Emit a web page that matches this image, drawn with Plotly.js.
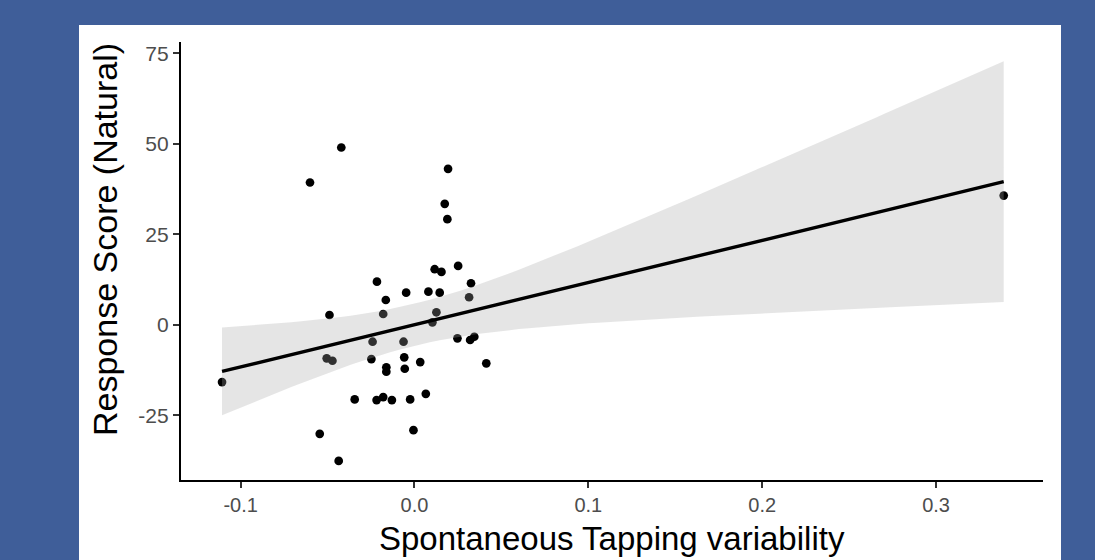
<!DOCTYPE html>
<html>
<head>
<meta charset="utf-8">
<script src="https://cdn.plot.ly/plotly-3.0.1.min.js"></script>
<style>
  html, body { margin: 0; padding: 0; background: #3F5E99; }
  #chart { width: 1095px; height: 560px; }
</style>
</head>
<body>
<div id="chart"></div>
<script>
// Spontaneous tapping variability vs. natural response score
const tappingVariability = [
  -0.1107, -0.0601, -0.0421, -0.0545, -0.0436, -0.0489, -0.0505, -0.0472,
  -0.0344, -0.0218, -0.0180, -0.0130, -0.0025, 0.0065, -0.0006, -0.0248,
  -0.0241, -0.0180, -0.0165, -0.0216, -0.0048, 0.0080, 0.0145, 0.0325,
  0.0314, 0.0126, 0.0103, -0.0063, -0.0059, -0.0056, -0.0162, -0.0162,
  0.0033, 0.0247, 0.0320, 0.0344, 0.0413, 0.0193, 0.0174, 0.0189,
  0.0116, 0.0155, 0.0251, 0.3389
];
const responseScore = [
  -15.85, 39.28, 48.96, -30.15, -37.62, 2.68, -9.29, -9.96,
  -20.64, -20.83, -20.00, -20.83, -20.64, -19.09, -29.13, -9.49,
  -4.70, 2.96, 6.83, 11.89, 8.85, 9.13, 8.85, 11.45,
  7.58, 3.43, 0.66, -4.70, -9.02, -12.17, -11.78, -13.00,
  -10.32, -3.76, -4.23, -3.32, -10.68, 43.07, 33.39, 29.16,
  15.33, 14.58, 16.24, 35.68
];
const xTicks = [-0.1, 0.0, 0.1, 0.2, 0.3];
const xTickText = ["-0.1", "0.0", "0.1", "0.2", "0.3"];
const yTicks = [-25, 0, 25, 50, 75];
const yTickText = ["-25", "0", "25", "50", "75"];
const xTitle = "Spontaneous Tapping variability";
const yTitle = "Response Score (Natural)";

// Linear model fit with 95% confidence band (lm, 80 evaluation points)
const n = tappingVariability.length;
const mx = tappingVariability.reduce((a, b) => a + b, 0) / n;
const my = responseScore.reduce((a, b) => a + b, 0) / n;
let sxx = 0, sxy = 0;
for (let i = 0; i < n; i++) {
  sxx += (tappingVariability[i] - mx) ** 2;
  sxy += (tappingVariability[i] - mx) * (responseScore[i] - my);
}
const slope = sxy / sxx;
const intercept = my - slope * mx;
let sse = 0;
for (let i = 0; i < n; i++) {
  const r = responseScore[i] - (intercept + slope * tappingVariability[i]);
  sse += r * r;
}
const sigma = Math.sqrt(sse / (n - 2));
const tCrit = 2.018; // t(0.975, df = 42)
const xMin = Math.min(...tappingVariability);
const xMax = Math.max(...tappingVariability);
const fitX = [], fitY = [], lowerY = [], upperY = [];
for (let k = 0; k < 80; k++) {
  const xv = xMin + (xMax - xMin) * k / 79;
  const yv = intercept + slope * xv;
  const se = sigma * Math.sqrt(1 / n + (xv - mx) ** 2 / sxx);
  fitX.push(xv); fitY.push(yv);
  lowerY.push(yv - tCrit * se); upperY.push(yv + tCrit * se);
}

// Plot-area geometry in pixels
const W = 1095, H = 560;
const M = { l: 181, r: 52, t: 42, b: 80 };
const pw = W - M.l - M.r, ph = H - M.t - M.b;
const px = v => (v - M.l) / pw;
const py = v => (H - M.b - v) / ph;

const traces = [
  {
    x: tappingVariability, y: responseScore, type: "scatter", mode: "markers",
    marker: { color: "#000000", size: 8.7 }, hoverinfo: "x+y"
  },
  {
    x: fitX, y: lowerY, type: "scatter", mode: "lines",
    line: { width: 0, color: "rgba(0,0,0,0)" }, hoverinfo: "skip"
  },
  {
    x: fitX, y: upperY, type: "scatter", mode: "lines", fill: "tonexty",
    fillcolor: "rgba(165,165,165,0.29)",
    line: { width: 0, color: "rgba(0,0,0,0)" }, hoverinfo: "skip"
  },
  {
    x: fitX, y: fitY, type: "scatter", mode: "lines",
    line: { color: "#000000", width: 3.4 }, hoverinfo: "skip"
  }
];

const family = "Liberation Sans, Arial, sans-serif";
const tickFont = { family: family, size: 20, color: "#4D4D4D" };
const titleFont = { family: family, size: 33, color: "#000000" };

const layout = {
  width: W, height: H,
  margin: M,
  paper_bgcolor: "#3F5E99",
  plot_bgcolor: "#FFFFFF",
  showlegend: false,
  shapes: [{
    type: "rect", xref: "paper", yref: "paper", layer: "below",
    x0: px(79), x1: px(1061), y0: py(H + 20), y1: py(25),
    fillcolor: "#FFFFFF", line: { width: 0 }
  }],
  annotations: [
    {
      text: xTitle, xref: "paper", yref: "paper", showarrow: false,
      x: px(612), y: py(538), xanchor: "center", yanchor: "middle", font: titleFont
    },
    {
      text: yTitle, xref: "paper", yref: "paper", showarrow: false, textangle: -90,
      x: px(105), y: py(240), xanchor: "center", yanchor: "middle",
      font: { family: family, size: 34, color: "#000000" }
    }
  ],
  xaxis: {
    range: [-0.1343, 0.3615],
    tickvals: xTicks, ticktext: xTickText,
    showgrid: false, zeroline: false,
    showline: true, linecolor: "#000000", linewidth: 2.2,
    ticks: "outside", ticklen: 6, tickwidth: 2, tickcolor: "#333333",
    tickfont: tickFont
  },
  yaxis: {
    range: [-42.9, 78.1],
    tickvals: yTicks, ticktext: yTickText,
    showgrid: false, zeroline: false,
    showline: true, linecolor: "#000000", linewidth: 2.2,
    ticks: "outside", ticklen: 6, tickwidth: 2, tickcolor: "#333333",
    tickfont: { family: family, size: 21, color: "#4D4D4D" }
  }
};

Plotly.newPlot("chart", traces, layout, { displayModeBar: false, staticPlot: true });
</script>
</body>
</html>
